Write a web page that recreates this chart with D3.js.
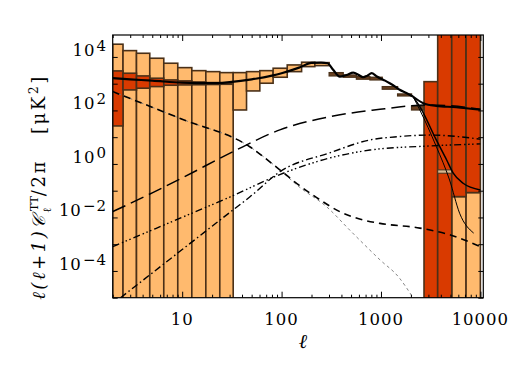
<!DOCTYPE html>
<html><head><meta charset="utf-8">
<script src="https://cdn.jsdelivr.net/npm/d3@7"></script>
<style>body{margin:0;background:#fff}svg{display:block}</style>
</head><body><svg id="c" width="518" height="370"></svg>
<script>
// ---------------- data ----------------
// light orange boxes: [l0, l1, lo, hi]
const lightL0 = [2, 2.54, 3.47, 4.72, 6.53, 9.03, 12.5, 17.3, 23.9, 32.6, 44.4, 60.4, 82.2, 114, 159, 216, 5150, 7180, 3720];
const lightL1 = [2.54, 3.47, 4.72, 6.53, 9.03, 12.5, 17.3, 23.9, 32.6, 44.4, 60.4, 82.2, 114, 159, 216, 301, 7180, 10000, 5150];
const lightLo = [1e-7, 1e-7, 1e-7, 1e-7, 1e-7, 1e-7, 1e-7, 1e-7, 1e-7, 104, 535, 1040, 1740, 2820, 4340, 4730, 1e-7, 1e-7, 0.45];
const lightHi = [29900, 17200, 13700, 8930, 5810, 3980, 3070, 2820, 2590, 2590, 2820, 3070, 3780, 5020, 6340, 6120, 0.06, 0.085, 0.6];
// dark red boxes
const darkL0 = [2, 2.54, 3.47, 4.72, 6.53, 9.03, 12.5, 17.3, 23.9, 2710, 3720, 5150, 7180];
const darkL1 = [2.54, 3.47, 4.72, 6.53, 9.03, 12.5, 17.3, 23.9, 32.6, 3720, 5150, 7180, 10000];
const darkLo = [26.3, 584, 678, 778, 875, 898, 910, 930, 950, 1e-7, 1e-7, 0.06, 0.085];
const darkHi = [3000, 2460, 1950, 1600, 1380, 1270, 1160, 1100, 1080, 1190, 1e7, 1e7, 1e7];
// high-l data boxes
const dataL0 = [301, 417, 566, 774, 1030, 1470, 2030];
const dataL1 = [417, 566, 774, 1030, 1470, 2030, 2710];
const dataLo = [1950, 1740, 1470, 1380, 621, 348, 104];
const dataHi = [2590, 2120, 1840, 1740, 776, 414, 147];
// CMB theory (solid thick)
const cmbL = [2, 3, 5, 10, 20, 30, 50, 80, 100, 150, 200, 250, 290, 330, 385, 450, 526, 600, 660, 730, 805, 900, 977, 1100, 1225, 1400, 1540, 1800, 2100];
const cmbV = [1600, 1450, 1300, 1090, 1040, 1150, 1450, 2000, 2460, 3980, 6000, 6100, 5800, 3300, 1820, 2100, 2590, 2100, 1740, 2000, 2460, 1900, 1600, 1300, 1040, 760, 590, 450, 330];
// high-l branches
const totL = [2100, 2660, 3600, 5700, 10000];
const totV = [330, 186, 147, 132, 105];
const midL = [2100, 2460, 3600, 4580, 5330, 6700, 10000];
const midV = [330, 139, 7.9, 1.4, 0.45, 0.19, 0.107];
const thinL = [2100, 2460, 3600, 4900, 6180, 8560];
const thinV = [330, 104, 4.5, 0.25, 0.0144, 0.0026];
// long dashed
const ldL = [2, 5, 10, 32.6, 96, 306, 977, 1950, 3100, 5000, 10000];
const ldV = [0.0165, 0.083, 0.30, 2.9, 18.7, 58.7, 110, 147, 160, 150, 110];
// dash-dot
const ddL = [2.4, 5, 10, 20, 30.2, 47.8, 96, 306, 774, 1500, 3100, 6000, 10000];
const ddV = [1e-5, 8.4e-5, 6.3e-4, 4.7e-3, 0.0155, 0.058, 0.51, 2.6, 7.9, 10.5, 12, 10.5, 8.4];
// dash-dot-dot-dot
const d3L = [2, 5, 10, 30.2, 96, 306, 774, 3100, 10000];
const d3V = [8.1e-4, 3.4e-3, 0.0101, 0.058, 0.4, 1.67, 3.3, 4.7, 5.6];
// medium dashed (thick)
const mdL = [2, 10, 47.8, 96, 150, 245, 385, 660, 977, 2460, 5000, 10000];
const mdV = [506, 46.8, 4.4, 0.6, 0.16, 0.045, 0.0165, 0.0081, 0.006, 0.004, 0.0022, 8.1e-4];
// thin grey dashed
const gdL = [2, 10, 47.8, 96, 150, 284, 500, 774, 977, 1500, 2100];
const gdV = [506, 46.8, 4.4, 0.6, 0.14, 0.025, 3e-3, 6e-4, 2.6e-4, 6e-5, 1e-5];
// ticks
const xLabels = [10, 100, 1000, 10000];
const yLabelExp = [4, 2, 0, -2, -4];

// ---------------- drawing ----------------
const L = 112.7, R = 483.3, T = 35, B = 297.7;
const svg = d3.select('#c');
const x = d3.scaleLog().domain([2, 10700]).range([L, R]);
const y = d3.scaleLog().domain([1e-5, 6.6e4]).range([B, T]);
const yc = v => y(Math.max(1e-6, Math.min(1e6, v)));

svg.append('defs').append('clipPath').attr('id', 'clip')
  .append('rect').attr('x', L).attr('y', T).attr('width', R - L).attr('height', B - T);
const g = svg.append('g').attr('clip-path', 'url(#clip)');

const LIGHT = '#ffba6e', DARK = '#d93a00', EDGE = '#4a3018';
function boxes(l0, l1, lo, hi, fill, sw) {
  g.append('g').selectAll('rect').data(l0.map((d, i) => i)).join('rect')
    .attr('x', i => x(l0[i])).attr('width', i => x(l1[i]) - x(l0[i]))
    .attr('y', i => yc(hi[i])).attr('height', i => yc(lo[i]) - yc(hi[i]))
    .attr('fill', fill).attr('stroke', EDGE).attr('stroke-width', sw);
}
boxes(lightL0.slice(0, 18), lightL1.slice(0, 18), lightLo.slice(0, 18), lightHi.slice(0, 18), LIGHT, 1.6);
boxes(darkL0, darkL1, darkLo, darkHi, DARK, 1.6);
boxes(lightL0.slice(18), lightL1.slice(18), lightLo.slice(18), lightHi.slice(18), '#d8b890', 1.0);
boxes(dataL0, dataL1, dataLo, dataHi, '#6a4020', 1.3);

const line = d3.line().x(d => x(d[0])).y(d => yc(d[1])).curve(d3.curveMonotoneX);
function curve(ls, vs, stroke, sw, dash) {
  g.append('path').datum(ls.map((l, i) => [l, vs[i]])).attr('d', line)
    .attr('fill', 'none').attr('stroke', stroke).attr('stroke-width', sw)
    .attr('stroke-dasharray', dash || null);
}
curve(gdL, gdV, '#777', 0.9, '3,3');
curve(mdL, mdV, '#000', 1.6, '7,5');
curve(ldL, ldV, '#000', 1.5, '14,6');
curve(ddL, ddV, '#000', 1.4, '7,3,1.5,3');
curve(d3L, d3V, '#000', 1.4, '7,3,1.5,2.5,1.5,2.5,1.5,3');
curve(cmbL, cmbV, '#000', 2.2);
curve(totL, totV, '#000', 2.0);
curve(midL, midV, '#000', 1.5);
curve(thinL, thinV, '#000', 1.0);

// axes (ticks pointing inward)
const xTicks = [];
for (let p = 0; p <= 4; p++) for (let m = 1; m <= 9; m++) { const v = m * Math.pow(10, p); if (v >= 2 && v <= 10700) xTicks.push(v); }
const isMajor = v => Math.abs(Math.log10(v) - Math.round(Math.log10(v))) < 1e-9;
function xAxis(gen, ty) {
  const a = svg.append('g').attr('transform', `translate(0,${ty})`)
    .call(gen(x).tickValues(xTicks).tickFormat('').tickSizeOuter(0).tickSize(0));
  a.select('.domain').remove();
  a.selectAll('.tick line').attr('stroke', '#000').attr('stroke-width', 1)
    .attr('y2', d => (gen === d3.axisBottom ? -1 : 1) * (isMajor(d) ? 6 : 3));
}
xAxis(d3.axisBottom, B);
xAxis(d3.axisTop, T);
const yTicks = d3.range(-5, 5).map(e => Math.pow(10, e));
function yAxis(gen, tx) {
  const a = svg.append('g').attr('transform', `translate(${tx},0)`)
    .call(gen(y).tickValues(yTicks).tickFormat('').tickSizeOuter(0).tickSize(0));
  a.select('.domain').remove();
  a.selectAll('.tick line').attr('stroke', '#000').attr('stroke-width', 1)
    .attr('x2', (gen === d3.axisLeft ? 1 : -1) * 5);
}
yAxis(d3.axisLeft, L);
yAxis(d3.axisRight, R);
svg.append('rect').attr('x', L).attr('y', T).attr('width', R - L).attr('height', B - T)
  .attr('fill', 'none').attr('stroke', '#000').attr('stroke-width', 1.2);

const FONT = 'DejaVu Serif';
svg.append('g').selectAll('text').data(xLabels).join('text')
  .attr('x', d => x(d)).attr('y', 325).attr('text-anchor', 'middle')
  .attr('font-family', FONT).attr('font-size', 16.5).attr('letter-spacing', 1)
  .text(d => String(d));

const yl = svg.append('g').selectAll('text').data(yLabelExp).join('text')
  .attr('x', 107).attr('y', d => y(Math.pow(10, d)) - 1).attr('text-anchor', 'end')
  .attr('font-family', FONT).attr('font-size', 16.5).attr('letter-spacing', 1);
yl.append('tspan').text('10');
yl.append('tspan').attr('dy', -5).attr('dx', 1).attr('font-size', 15).text(d => (d < 0 ? '\u2212' + (-d) : String(d)));

// axis titles
svg.append('text').attr('x', 303).attr('y', 348).attr('text-anchor', 'middle')
  .attr('font-family', FONT).attr('font-style', 'italic').attr('font-size', 20).text('\u2113');

const yt = svg.append('text').attr('transform', 'translate(45,187) rotate(-90)')
  .attr('text-anchor', 'middle').attr('font-family', FONT).attr('font-size', 18)
  .attr('letter-spacing', 2.6);
yt.append('tspan').attr('font-style', 'italic').text('\u2113(\u2113+1)');
yt.append('tspan').attr('font-style', 'italic').text('\uD835\uDC9E');
yt.append('tspan').attr('font-size', 11).attr('dy', 6).text('\u2113');
yt.append('tspan').attr('font-size', 11).attr('dy', -13).attr('dx', -6).attr('letter-spacing', 0).text('TT');
yt.append('tspan').attr('dy', 7).text('/2\u03C0\u00A0\u00A0\u00A0[\u03BCK');
yt.append('tspan').attr('font-size', 12).attr('dy', -7).text('2');
yt.append('tspan').attr('dy', 7).text(']');
</script></body></html>
